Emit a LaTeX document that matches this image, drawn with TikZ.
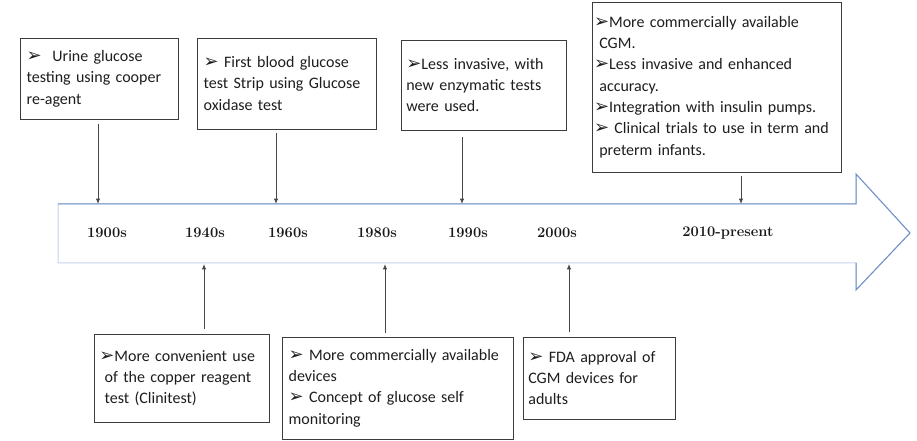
\documentclass[tikz,border=0pt]{standalone}
\usepackage{fontspec}
\usepackage{tikz}
\usetikzlibrary{arrows.meta}
\newfontfamily\calibrifont{Carlito}
\newfontfamily\dingfont{DejaVu Sans}
\newcommand{\bul}{{\dingfont\fontsize{13.5}{12}\selectfont ➢}}
\definecolor{arrowblue}{RGB}{112,146,200}
\definecolor{arrowpale}{RGB}{196,211,237}

\begin{document}
\begin{tikzpicture}[x=0.75pt,y=0.75pt,yscale=-1,xscale=1,
  evbox/.style={draw={rgb,255:red,60;green,60;blue,60}, line width=0.7pt, fill=white, align=left,
    inner xsep=5pt, inner ysep=2pt, font=\calibrifont\fontsize{12}{16}\selectfont,
    text={rgb,255:red,30;green,30;blue,30}},
  yearlbl/.style={font=\fontsize{11}{12}\selectfont\bfseries, text={rgb,255:red,25;green,25;blue,25}},
  link/.style={draw={rgb,255:red,70;green,70;blue,70}, line width=0.6pt, -{Latex[length=4pt,width=3.2pt]}}]
\useasboundingbox (0,0) rectangle (917,441);

%Shape: Right Arrow [id:timeline]
\draw [color=arrowpale, line width=0.75pt, fill=white] (58,204) -- (856,204) -- (856,174) -- (910,233) -- (856,290) -- (856,263) -- (58,263) -- cycle ;
\draw [color=arrowblue, line width=0.75pt] (58,204) -- (856,204) -- (856,174) -- (910,233) -- (856,290) -- (856,263) ;

% Text Node
\node (y1900) [yearlbl] at (107,233) {1900s};
\node (y1940) [yearlbl] at (205,233) {1940s};
\node (y1960) [yearlbl] at (288,233) {1960s};
\node (y1980) [yearlbl] at (377,233) {1980s};
\node (y1990) [yearlbl] at (468,233) {1990s};
\node (y2000) [yearlbl] at (557,233) {2000s};
\node (y2010) [yearlbl] at (728,233) {2010-present};

% Text Node
\node (u1900) [evbox, text width=108.5pt, minimum height=60.75pt] at (99,78.5)
  {\bul\ \ Urine glucose\\testing using cooper\\re-agent};
% Text Node
\node (u1960) [evbox, text width=124.25pt, minimum height=68.25pt] at (286.5,83.5)
  {\bul\ First blood glucose\\test Strip using Glucose\\oxidase test};
% Text Node
\node (u1990) [evbox, inner xsep=4pt, text width=115.75pt, minimum height=67.5pt] at (483.5,85)
  {\bul Less invasive, with\\new enzymatic tests\\were used.};
% Text Node
\node (u2010) [evbox, inner xsep=1.5pt, text width=183.75pt, minimum height=127.5pt] at (716.5,87)
  {\bul More commercially available\\\ CGM.\\\bul Less invasive and enhanced\\\ accuracy.\\\bul Integration with insulin pumps.\\\bul\ Clinical trials to use in term and\\\ preterm infants.};

% Text Node
\node (l1940) [evbox, inner xsep=4pt, text width=123.25pt, minimum height=66pt] at (181.5,378)
  {\bul More convenient use\\\ of the copper reagent\\\ test (Clinitest)};
% Text Node
\node (l1980) [evbox, inner xsep=5pt, text width=163.25pt, minimum height=76.5pt] at (397.5,388)
  {\bul\ More commercially available\\devices\\\bul\ Concept of glucose self\\monitoring};
% Text Node
\node (l2000) [evbox, inner xsep=4pt, text width=106pt, minimum height=61.5pt] at (599,378)
  {\bul\ FDA approval of\\CGM devices for\\adults};

% Straight Lines
\coordinate (t1900) at (98,204);
\coordinate (t1960) at (276,204);
\coordinate (t1990) at (462,204);
\coordinate (t2010) at (741,204);
\coordinate (b1940) at (204,264);
\coordinate (b1980) at (385,264);
\coordinate (b2000) at (569,264);

\draw [link] (t1900 |- u1900.south) ++(0,5) -- (t1900) ;
\draw [link] (t1960 |- u1960.south) ++(0,4) -- (t1960) ;
\draw [link] (t1990 |- u1990.south) ++(0,7) -- (t1990) ;
\draw [link] (t2010 |- u2010.south) ++(0,4) -- (t2010) ;
\draw [link] (b1940 |- l1940.north) ++(0,-5) -- (b1940) ;
\draw [link] (b1980 |- l1980.north) ++(0,-4) -- (b1980) ;
\draw [link] (b2000 |- l2000.north) ++(0,-5) -- (b2000) ;

\end{tikzpicture}
\end{document}
